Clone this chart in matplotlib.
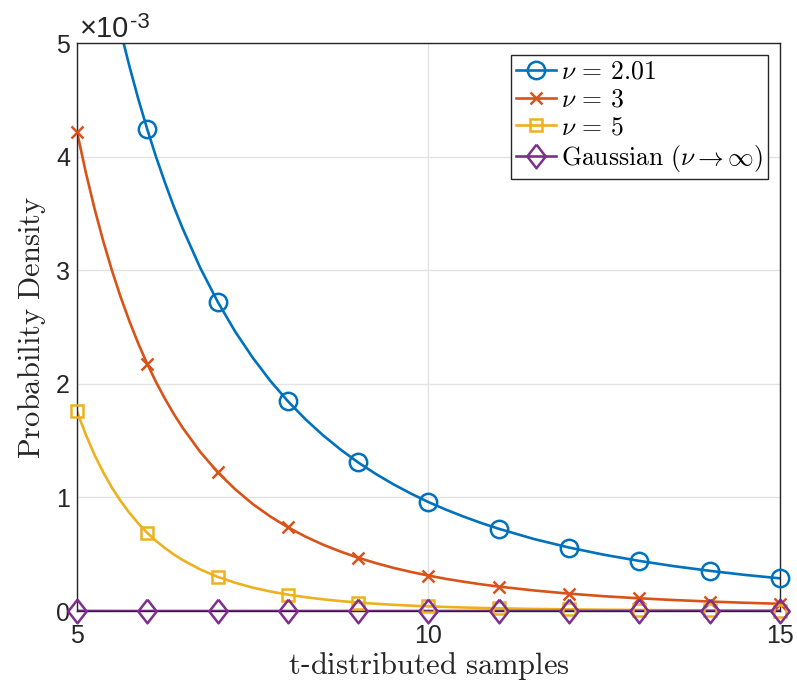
import matplotlib
matplotlib.use("Agg")
from matplotlib import pyplot as plt
from matplotlib.lines import Line2D
from matplotlib.ticker import FuncFormatter

plt.rcParams['mathtext.fontset'] = 'cm'
plt.rcParams['font.family'] = ['Liberation Sans', 'DejaVu Sans']

# sample positions (finer near x=5 where the curves bend hard)
x = [5, 5.125, 5.25, 5.375, 5.5, 5.625, 5.75, 5.875, 6, 6.125, 6.25, 6.375, 6.5,
     6.75, 7, 7.25, 7.5, 7.75, 8, 8.25, 8.5, 8.75, 9, 9.25, 9.5, 9.75, 10,
     10.25, 10.5, 10.75, 11, 11.5, 12, 12.5, 13, 13.5, 14, 14.5, 15]

pdf_nu201 = [0.007089, 0.006617, 0.006186, 0.005789, 0.005427, 0.005092, 0.004786,
             0.004501, 0.004240, 0.003997, 0.003774, 0.003564, 0.003372, 0.003025,
             0.002724, 0.002460, 0.002230, 0.002026, 0.001847, 0.001688, 0.001547,
             0.001421, 0.001308, 0.001207, 0.001116, 0.001034, 0.000959, 0.000892,
             0.000831, 0.000775, 0.000724, 0.000634, 0.000559, 0.000495, 0.000441,
             0.000394, 0.000354, 0.000318, 0.000288]
pdf_nu3 = [0.004219, 0.003862, 0.003541, 0.003253, 0.002992, 0.002757, 0.002544,
           0.002350, 0.002175, 0.002015, 0.001870, 0.001737, 0.001616, 0.001403,
           0.001223, 0.001072, 0.000942, 0.000832, 0.000737, 0.000655, 0.000584,
           0.000523, 0.000469, 0.000422, 0.000380, 0.000344, 0.000312, 0.000283,
           0.000258, 0.000235, 0.000215, 0.000181, 0.000153, 0.000130, 0.000112,
           0.0000964, 0.0000835, 0.0000727, 0.0000636]
pdf_nu5 = [0.001757, 0.001553, 0.001374, 0.001219, 0.001083, 0.000965, 0.000861,
           0.000769, 0.000688, 0.000617, 0.000555, 0.000499, 0.000450, 0.000367,
           0.000301, 0.000249, 0.000206, 0.000172, 0.000144, 0.000122, 0.000103,
           0.0000875, 0.0000746, 0.0000639, 0.0000549, 0.0000474, 0.0000410, 0.0000356,
           0.0000310, 0.0000271, 0.0000237, 0.0000182, 0.0000143, 0.0000113, 0.0000090,
           0.0000072, 0.0000058, 0.0000047, 0.0000039]
pdf_gauss = [0.0000015, 0.0000008, 0.0000005, 0.0000003, 0.0000002] + [0.0] * 34

labels = [r'$\nu \,=\, 2.01$', r'$\nu \,=\, 3$', r'$\nu \,=\, 5$',
          r'$\mathrm{Gaussian}\ (\nu \rightarrow \infty)$']

colors = ['#0072BD', '#D95319', '#EDB120', '#7E2F8E']
# matlab style diamond is a bit taller than wide
diamond = [(0, 1), (0.78, 0), (0, -1), (-0.78, 0), (0, 1)]
styles = [dict(marker='o', ms=12.5, mfc='none'),
          dict(marker='x', ms=9),
          dict(marker='s', ms=9, mfc='none'),
          dict(marker=diamond, ms=17, mfc='none')]

# markers only at the integer samples
marks = [i for i, v in enumerate(x) if v == int(v)]

fig = plt.figure(figsize=(7.97, 6.86), dpi=100)
ax = fig.add_axes([0.0966, 0.1093, 0.882, 0.828])

handles = []
for ys, c, st, lab in zip([pdf_nu201, pdf_nu3, pdf_nu5, pdf_gauss], colors, styles, labels):
    ax.plot(x, ys, color=c, lw=1.9)
    ax.plot([x[i] for i in marks], [ys[i] for i in marks], ls='none', color=c,
            mew=1.8, clip_on=False, zorder=3, **st)
    handles.append(Line2D([], [], color=c, lw=1.9, mew=1.8, label=lab, **st))

ax.set_xlim(5, 15)
ax.set_ylim(0, 0.005)
ax.set_xticks([5, 10, 15])
ax.set_yticks([0, 0.001, 0.002, 0.003, 0.004, 0.005])
ax.yaxis.set_major_formatter(FuncFormatter(lambda v, _: '%g' % round(v * 1e3, 6)))
ax.tick_params(labelsize=18, colors='#262626', direction='in', length=0)
ax.tick_params(axis='x', pad=9)
ax.tick_params(axis='y', pad=5)
ax.grid(True, color='#e3e3e3', lw=1)
ax.set_axisbelow(True)
for s in ax.spines.values():
    s.set_color('#262626')
    s.set_linewidth(1)

# matlab style exponent above the y axis
fig.text(80 / 797, 1 - 37 / 686, u'\u00d710', fontsize=21, color='#262626',
         va='baseline', ha='left')
fig.text(130 / 797, 1 - 28 / 686, '-3', fontsize=16, color='#262626',
         va='baseline', ha='left')

ax.set_xlabel(r'$\mathrm{t}$-$\mathrm{distributed\ samples}$', fontsize=22,
              color='#262626', labelpad=2)
ax.set_ylabel(r'$\mathrm{Probability\ Density}$', fontsize=22, color='#262626',
              labelpad=6)

leg = ax.legend(handles=handles, loc='upper right', fontsize=18.5, frameon=True,
                fancybox=False, edgecolor='#262626', handlelength=1.55,
                handletextpad=0.2, borderpad=0.2, labelspacing=0.15,
                borderaxespad=0.45, framealpha=1)
leg.get_frame().set_linewidth(1)

fig.savefig('out.png', dpi=100)
